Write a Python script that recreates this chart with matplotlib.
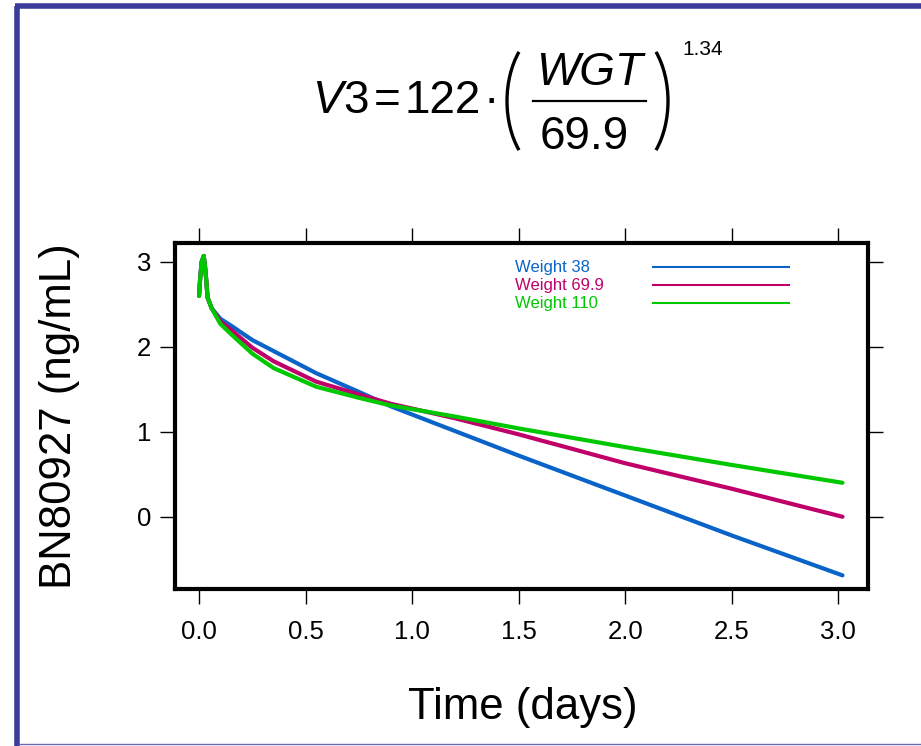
import matplotlib
matplotlib.use("Agg")
import matplotlib.pyplot as plt
from matplotlib.lines import Line2D
from matplotlib.patches import Arc
from matplotlib.transforms import IdentityTransform

# --- data ---
t_early = [0.0, 0.005, 0.012, 0.022, 0.03, 0.04, 0.06]
y_early = [2.60, 2.80, 3.00, 3.07, 2.90, 2.58, 2.45]

t_late = [0.10, 0.15, 0.25, 0.35, 0.55, 0.75, 0.90, 1.20, 1.50, 2.00, 2.50, 3.02]
blue_late = [2.33, 2.25, 2.08, 1.95, 1.69, 1.47, 1.30, 1.01, 0.72, 0.25, -0.22, -0.69]
mag_late = [2.30, 2.20, 1.99, 1.83, 1.59, 1.44, 1.33, 1.16, 0.97, 0.63, 0.33, 0.00]
green_late = [2.27, 2.15, 1.92, 1.75, 1.53, 1.40, 1.31, 1.18, 1.04, 0.82, 0.61, 0.40]

labels = ["Weight 38", "Weight 69.9", "Weight 110"]
colors = ["#0a64c8", "#c0006a", "#00c800"]

x_ticks = [0.0, 0.5, 1.0, 1.5, 2.0, 2.5, 3.0]
y_ticks = [0, 1, 2, 3]

plt.rcParams['font.family'] = ['Liberation Sans', 'DejaVu Sans']

W, H = 921, 746
fig = plt.figure(figsize=(W / 100, H / 100), dpi=100)
ax = fig.add_axes([0.190, 0.2105, 0.7525, 0.4635])

series = [blue_late, mag_late, green_late]
for vals, col in zip(series, colors):
    ax.plot(t_early + t_late, y_early + vals, color=col, lw=3.0,
            solid_capstyle='round', solid_joinstyle='round')

ax.set_xlim(-0.113, 3.14)
ax.set_ylim(-0.85, 3.22)
ax.set_xticks(x_ticks)
ax.set_xticklabels([f"{v:.1f}" for v in x_ticks])
ax.set_yticks(y_ticks)
ax.set_yticklabels([str(v) for v in y_ticks])

for s in ax.spines.values():
    s.set_linewidth(3.0)
ax.tick_params(axis='both', direction='out', width=1.0, labelsize=18.5,
               top=True, right=True, labeltop=False, labelright=False)
ax.tick_params(axis='x', length=11, pad=11)
ax.tick_params(axis='y', length=11, pad=6)

# legend drawn as text + line samples in axes coords
rows = [0.931, 0.879, 0.827]
for lab, col, yy in zip(labels, colors, rows):
    ax.text(0.49, yy, lab, color=col, fontsize=12, va='center', ha='left',
            transform=ax.transAxes)
    ax.plot([0.69, 0.886], [yy, yy], color=col, lw=1.5, transform=ax.transAxes)

fig.text(0.065, 0.4425, "BN80927 (ng/mL)", rotation=90, fontsize=31.5,
         ha='center', va='center')
fig.text(0.568, 0.052, "Time (days)", fontsize=31.5, ha='center', va='center')

# --- formula V3 = 122 * (WGT/69.9)^1.34, laid out in pixel positions ---
def fx(px):
    return px / W

def fy(py):
    return 1 - py / H

fs = 33
fig.text(fx(312), fy(113), "V", fontsize=fs, style='italic', va='baseline')
fig.text(fx(343), fy(113), "3", fontsize=fs, va='baseline')
fig.text(fx(387), fy(113), "=", fontsize=fs, va='baseline', ha='center')
fig.text(fx(404), fy(113), "122", fontsize=fs, va='baseline')
fig.text(fx(491), fy(113), "\u00b7", fontsize=fs, va='baseline', ha='center')
fig.text(fx(589), fy(85), "WGT", fontsize=fs, style='italic', va='baseline',
         ha='center')
fig.text(fx(584), fy(149), "69.9", fontsize=fs, va='baseline', ha='center')
fig.text(fx(682), fy(55), "1.34", fontsize=15, va='baseline')
fig.add_artist(Line2D([fx(533), fx(646)], [fy(101), fy(101)],
                      transform=fig.transFigure, color='black', lw=1.6))
idt = IdentityTransform()
fig.add_artist(Arc((556, H - 101), 98, 150, theta1=127, theta2=233,
                   transform=idt, color='black', lw=2.4))
fig.add_artist(Arc((619, H - 101), 98, 150, theta1=-53, theta2=53,
                   transform=idt, color='black', lw=2.4))

# slide-style border
bc = "#3b3b9b"
fig.add_artist(Line2D([0.0190, 0.0190], [0.0, 0.9915], transform=fig.transFigure,
                      color=bc, lw=4.0, solid_capstyle='butt'))
fig.add_artist(Line2D([0.0165, 1.0], [0.9915, 0.9915], transform=fig.transFigure,
                      color=bc, lw=4.0, solid_capstyle='butt'))
fig.add_artist(Line2D([0.021, 1.0], [0.0025, 0.0025], transform=fig.transFigure,
                      color="#6a6ab4", lw=1.0))

fig.savefig("out.png", dpi=100)
